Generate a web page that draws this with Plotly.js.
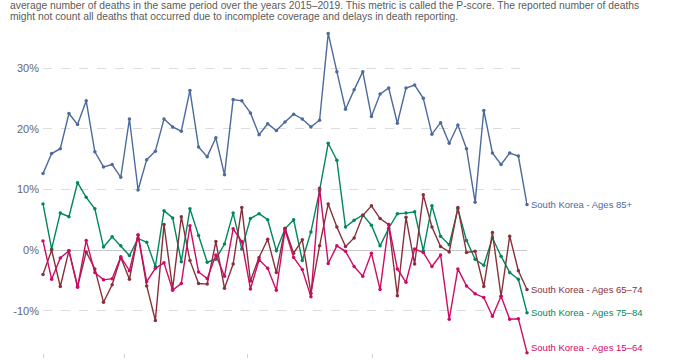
<!DOCTYPE html>
<html>
<head>
<meta charset="utf-8">
<script src="https://cdn.plot.ly/plotly-3.0.1.min.js"></script>
<style>
  html, body { margin: 0; padding: 0; background: #fff; }
  #chart { width: 680px; height: 360px; }
</style>
</head>
<body>
<div id="chart"></div>
<script>
// Week-ending dates (categories)
const weeks = [
  '2020-01-05','2020-01-12','2020-01-19','2020-01-26','2020-02-02','2020-02-09','2020-02-16','2020-02-23',
  '2020-03-01','2020-03-08','2020-03-15','2020-03-22','2020-03-29','2020-04-05','2020-04-12','2020-04-19',
  '2020-04-26','2020-05-03','2020-05-10','2020-05-17','2020-05-24','2020-05-31','2020-06-07','2020-06-14',
  '2020-06-21','2020-06-28','2020-07-05','2020-07-12','2020-07-19','2020-07-26','2020-08-02','2020-08-09',
  '2020-08-16','2020-08-23','2020-08-30','2020-09-06','2020-09-13','2020-09-20','2020-09-27','2020-10-04',
  '2020-10-11','2020-10-18','2020-10-25','2020-11-01','2020-11-08','2020-11-15','2020-11-22','2020-11-29',
  '2020-12-06','2020-12-13','2020-12-20','2020-12-27','2021-01-03','2021-01-10','2021-01-17','2021-01-24',
  '2021-01-31'
];

// P-scores (%) by age group
const ages85plus = [12.6,15.9,16.7,22.5,20.7,24.6,16.2,13.7,14.1,12.0,
  21.6,9.9,14.9,16.3,21.6,20.3,19.6,26.3,17.0,15.4,
  18.5,12.4,24.8,24.6,22.6,19.0,20.8,19.7,21.1,22.4,
  21.6,20.3,21.4,35.7,29.4,23.2,26.4,29.4,22.0,25.7,
  26.7,20.9,26.7,27.2,25.0,19.1,21.0,17.6,20.6,16.7,
  7.9,23.0,16.0,14.1,16.0,15.5,7.5];

const ages75to84 = [7.6,0.2,6.1,5.5,11.1,8.7,6.8,0.5,2.2,0.7,
  -0.9,1.9,1.3,-2.7,6.5,5.3,-1.9,6.8,2.4,-2.0,
  -1.5,1.0,6.1,0.2,5.2,6.0,5.0,-0.1,3.5,5.0,
  -1.7,3.0,9.8,17.6,14.8,3.8,4.9,5.8,4.1,0.7,
  3.6,6.0,6.1,6.3,-0.1,7.3,2.3,0.9,6.8,1.6,
  -1.5,-2.5,2.0,-1.0,-3.7,-4.8,-10.3];

const ages65to74 = [-4.0,0.0,-6.0,-0.1,-6.0,-0.3,-3.1,-8.6,-5.7,-1.2,
  -4.8,2.5,-5.9,-11.6,4.2,-6.4,5.5,-1.7,-5.5,-5.6,
  1.4,-6.3,-2.3,7.0,-5.1,-1.2,1.8,-3.7,3.6,-0.5,
  1.7,-7.1,0.7,7.6,3.8,0.6,2.0,5.7,7.3,5.2,
  4.2,-7.5,5.4,-2.3,9.1,3.8,0.6,-0.3,7.0,-0.4,
  -0.2,-6.0,2.9,-7.6,2.3,-3.4,-6.5];

const ages15to64 = [1.5,-4.8,-1.3,-0.1,-6.1,1.6,-3.7,-4.9,-4.7,-1.1,
  -3.4,2.5,-5.2,-3.0,-2.1,-6.6,-5.5,4.0,-3.6,-4.7,
  -0.8,-4.3,3.5,1.4,-6.4,-1.6,-3.0,-6.6,3.3,-1.2,
  -3.2,-7.7,10.2,-2.2,0.7,-0.2,-2.7,-4.3,-0.5,-6.5,
  4.2,-3.1,-5.3,0.2,-0.4,-2.7,-0.8,-11.4,-3.1,-5.9,
  -7.2,-7.8,-10.9,-7.6,-11.4,-11.3,-16.9];

const seriesNames = ['South Korea - Ages 85+','South Korea - Ages 75–84','South Korea - Ages 65–74','South Korea - Ages 15–64'];
const seriesData = [ages85plus, ages75to84, ages65to74, ages15to64];
const seriesColors = ['#4C6A9C','#00875E','#883039','#CF0A66'];
const labelShift = [0, 0, 0, 5];

const yTicks = [-10, 0, 10, 20, 30];
const yTickText = ['-10%', '0%', '10%', '20%', '30%'];
const xTickMarks = ['2020-01-05','2020-03-11','2020-06-19','2020-09-28'];

const subtitle1 = 'average number of deaths in the same period over the years 2015–2019. This metric is called the P-score. The reported number of deaths';
const subtitle2 = 'might not count all deaths that occurred due to incomplete coverage and delays in death reporting.';

const FONT = 'Liberation Sans, Arial, Helvetica, sans-serif';

const traces = seriesData.map((vals, i) => ({
  type: 'scatter',
  mode: 'lines+markers',
  x: weeks,
  y: vals,
  name: seriesNames[i],
  line: { color: seriesColors[i], width: 1.4 },
  marker: { color: seriesColors[i], size: 3.5 },
  cliponaxis: false,
  hoverinfo: 'skip'
}));

const plotLeft = 43, plotTop = 30, plotW = 484, plotH = 323;
const px2paperX = p => (p - plotLeft) / plotW;
const px2paperY = p => 1 + (plotTop - p) / plotH;

const annotations = seriesData.map((vals, i) => ({
  x: weeks[weeks.length - 1],
  y: vals[vals.length - 1],
  xref: 'x', yref: 'y',
  text: seriesNames[i],
  showarrow: false,
  xanchor: 'left', yanchor: 'middle',
  xshift: 2, yshift: labelShift[i],
  font: { family: FONT, size: 9.5, color: seriesColors[i] }
}));

annotations.push({
  xref: 'paper', yref: 'paper',
  x: px2paperX(8), y: px2paperY(5),
  xanchor: 'left', yanchor: 'middle',
  text: subtitle1, showarrow: false,
  font: { family: FONT, size: 10.3, color: '#5b5b5b' }
});
annotations.push({
  xref: 'paper', yref: 'paper',
  x: px2paperX(8), y: px2paperY(17),
  xanchor: 'left', yanchor: 'middle',
  text: subtitle2, showarrow: false,
  font: { family: FONT, size: 10.3, color: '#5b5b5b' }
});

const layout = {
  width: 680, height: 360,
  margin: { l: plotLeft, r: 680 - plotLeft - plotW, t: plotTop, b: 360 - plotTop - plotH, pad: 0 },
  paper_bgcolor: '#fff', plot_bgcolor: '#fff',
  showlegend: false,
  font: { family: FONT, color: '#666' },
  xaxis: {
    type: 'date',
    range: [weeks[0], weeks[weeks.length - 1]],
    showgrid: false, zeroline: false, showline: false,
    ticks: 'outside', ticklen: 4, tickwidth: 1, tickcolor: '#d0d0d0',
    tickmode: 'array', tickvals: xTickMarks, showticklabels: false
  },
  yaxis: {
    range: [-16.95, 36.26],
    tickmode: 'array',
    tickvals: yTicks,
    ticktext: yTickText,
    showgrid: true, gridcolor: '#dcdcdc', griddash: 'dash', gridwidth: 1,
    zeroline: true, zerolinecolor: '#c8c8c8', zerolinewidth: 1,
    showline: false, ticks: '',
    ticklabelstandoff: 3,
    tickfont: { family: FONT, size: 11, color: '#666' }
  },
  annotations: annotations
};

Plotly.newPlot('chart', traces, layout, { displayModeBar: false, staticPlot: true });
</script>
</body>
</html>
